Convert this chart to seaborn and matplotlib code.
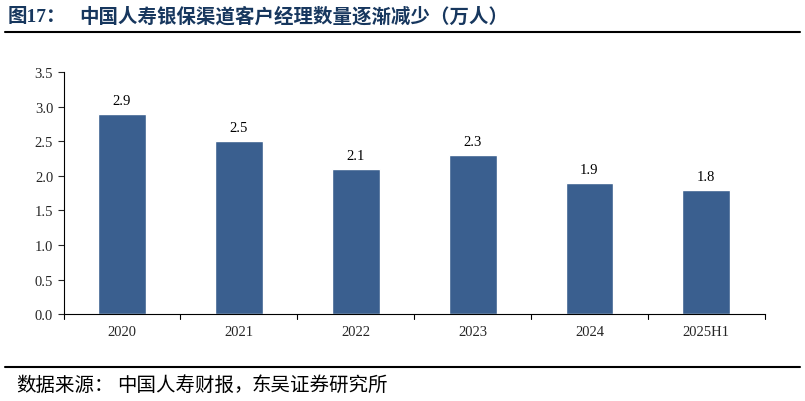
import matplotlib
matplotlib.use("Agg")
import matplotlib.pyplot as plt
import seaborn as sns
import pandas as pd

sns.set_theme(style="white")
plt.rcParams['font.family'] = ['Liberation Serif', 'Noto Sans CJK SC']

# data (万人)
years = ["2020", "2021", "2022", "2023", "2024", "2025H1"]
managers = [2.9, 2.5, 2.1, 2.3, 1.9, 1.8]
y_ticks = [0.0, 0.5, 1.0, 1.5, 2.0, 2.5, 3.0, 3.5]

title_prefix = "图17："
title = "中国人寿银保渠道客户经理数量逐渐减少（万人）"
source_parts = ["数据来源：", "中国人寿财报，", "东吴证券研究所"]

bar_color = "#3A5F8F"
title_color = "#17375E"
cjk = ["Noto Sans CJK SC"]

df = pd.DataFrame({"year": years, "value": managers})

fig = plt.figure(figsize=(8.05, 4.02), dpi=100)
ax = fig.add_axes([0.079, 0.216, 0.871, 0.602])

sns.barplot(data=df, x="year", y="value", color=bar_color, width=0.41,
            saturation=1, ax=ax)

for i, v in enumerate(managers):
    ax.text(i, v + 0.1, f"{v:.1f}", ha="center", va="bottom", fontsize=10.5,
            color="black")

ax.set_ylim(0, 3.5)
ax.set_xlim(-0.5, len(years) - 0.5)
ax.set_yticks(y_ticks)
ax.set_yticklabels([f"{t:.1f}" for t in y_ticks], fontsize=10.5)
ax.set_xticks(range(len(years)))
ax.set_xticklabels(years, fontsize=10.5)
ax.tick_params(axis="x", length=0, pad=8)
ax.tick_params(axis="y", length=4, direction="out", left=True, width=0.8)
# ticks between categories on the x axis
for b in [i - 0.5 for i in range(len(years) + 1)]:
    ax.plot([b, b], [0, -0.07], color="black", lw=0.8, clip_on=False)
ax.set_xlabel("")
ax.set_ylabel("")
ax.grid(False)
for side in ["top", "right"]:
    ax.spines[side].set_visible(False)
for side in ["left", "bottom"]:
    ax.spines[side].set_color("black")
    ax.spines[side].set_linewidth(0.8)

# title, split so the gap after the colon matches the original
fig.text(0.010, 0.957, title_prefix, fontsize=14, fontweight="bold",
         color=title_color, ha="left", va="center")
fig.text(0.098, 0.957, title, fontsize=14, fontweight="bold", family=cjk,
         color=title_color, ha="left", va="center")
fig.add_artist(plt.Line2D([0.006, 0.994], [0.918, 0.918], color="black", lw=1.5))
fig.add_artist(plt.Line2D([0.006, 0.994], [0.085, 0.085], color="black", lw=1.5))

for x, part in zip([0.020, 0.146, 0.312], source_parts):
    fig.text(x, 0.042, part, fontsize=14, family=cjk, color="black",
             ha="left", va="center")

fig.savefig("out.png", dpi=100)
